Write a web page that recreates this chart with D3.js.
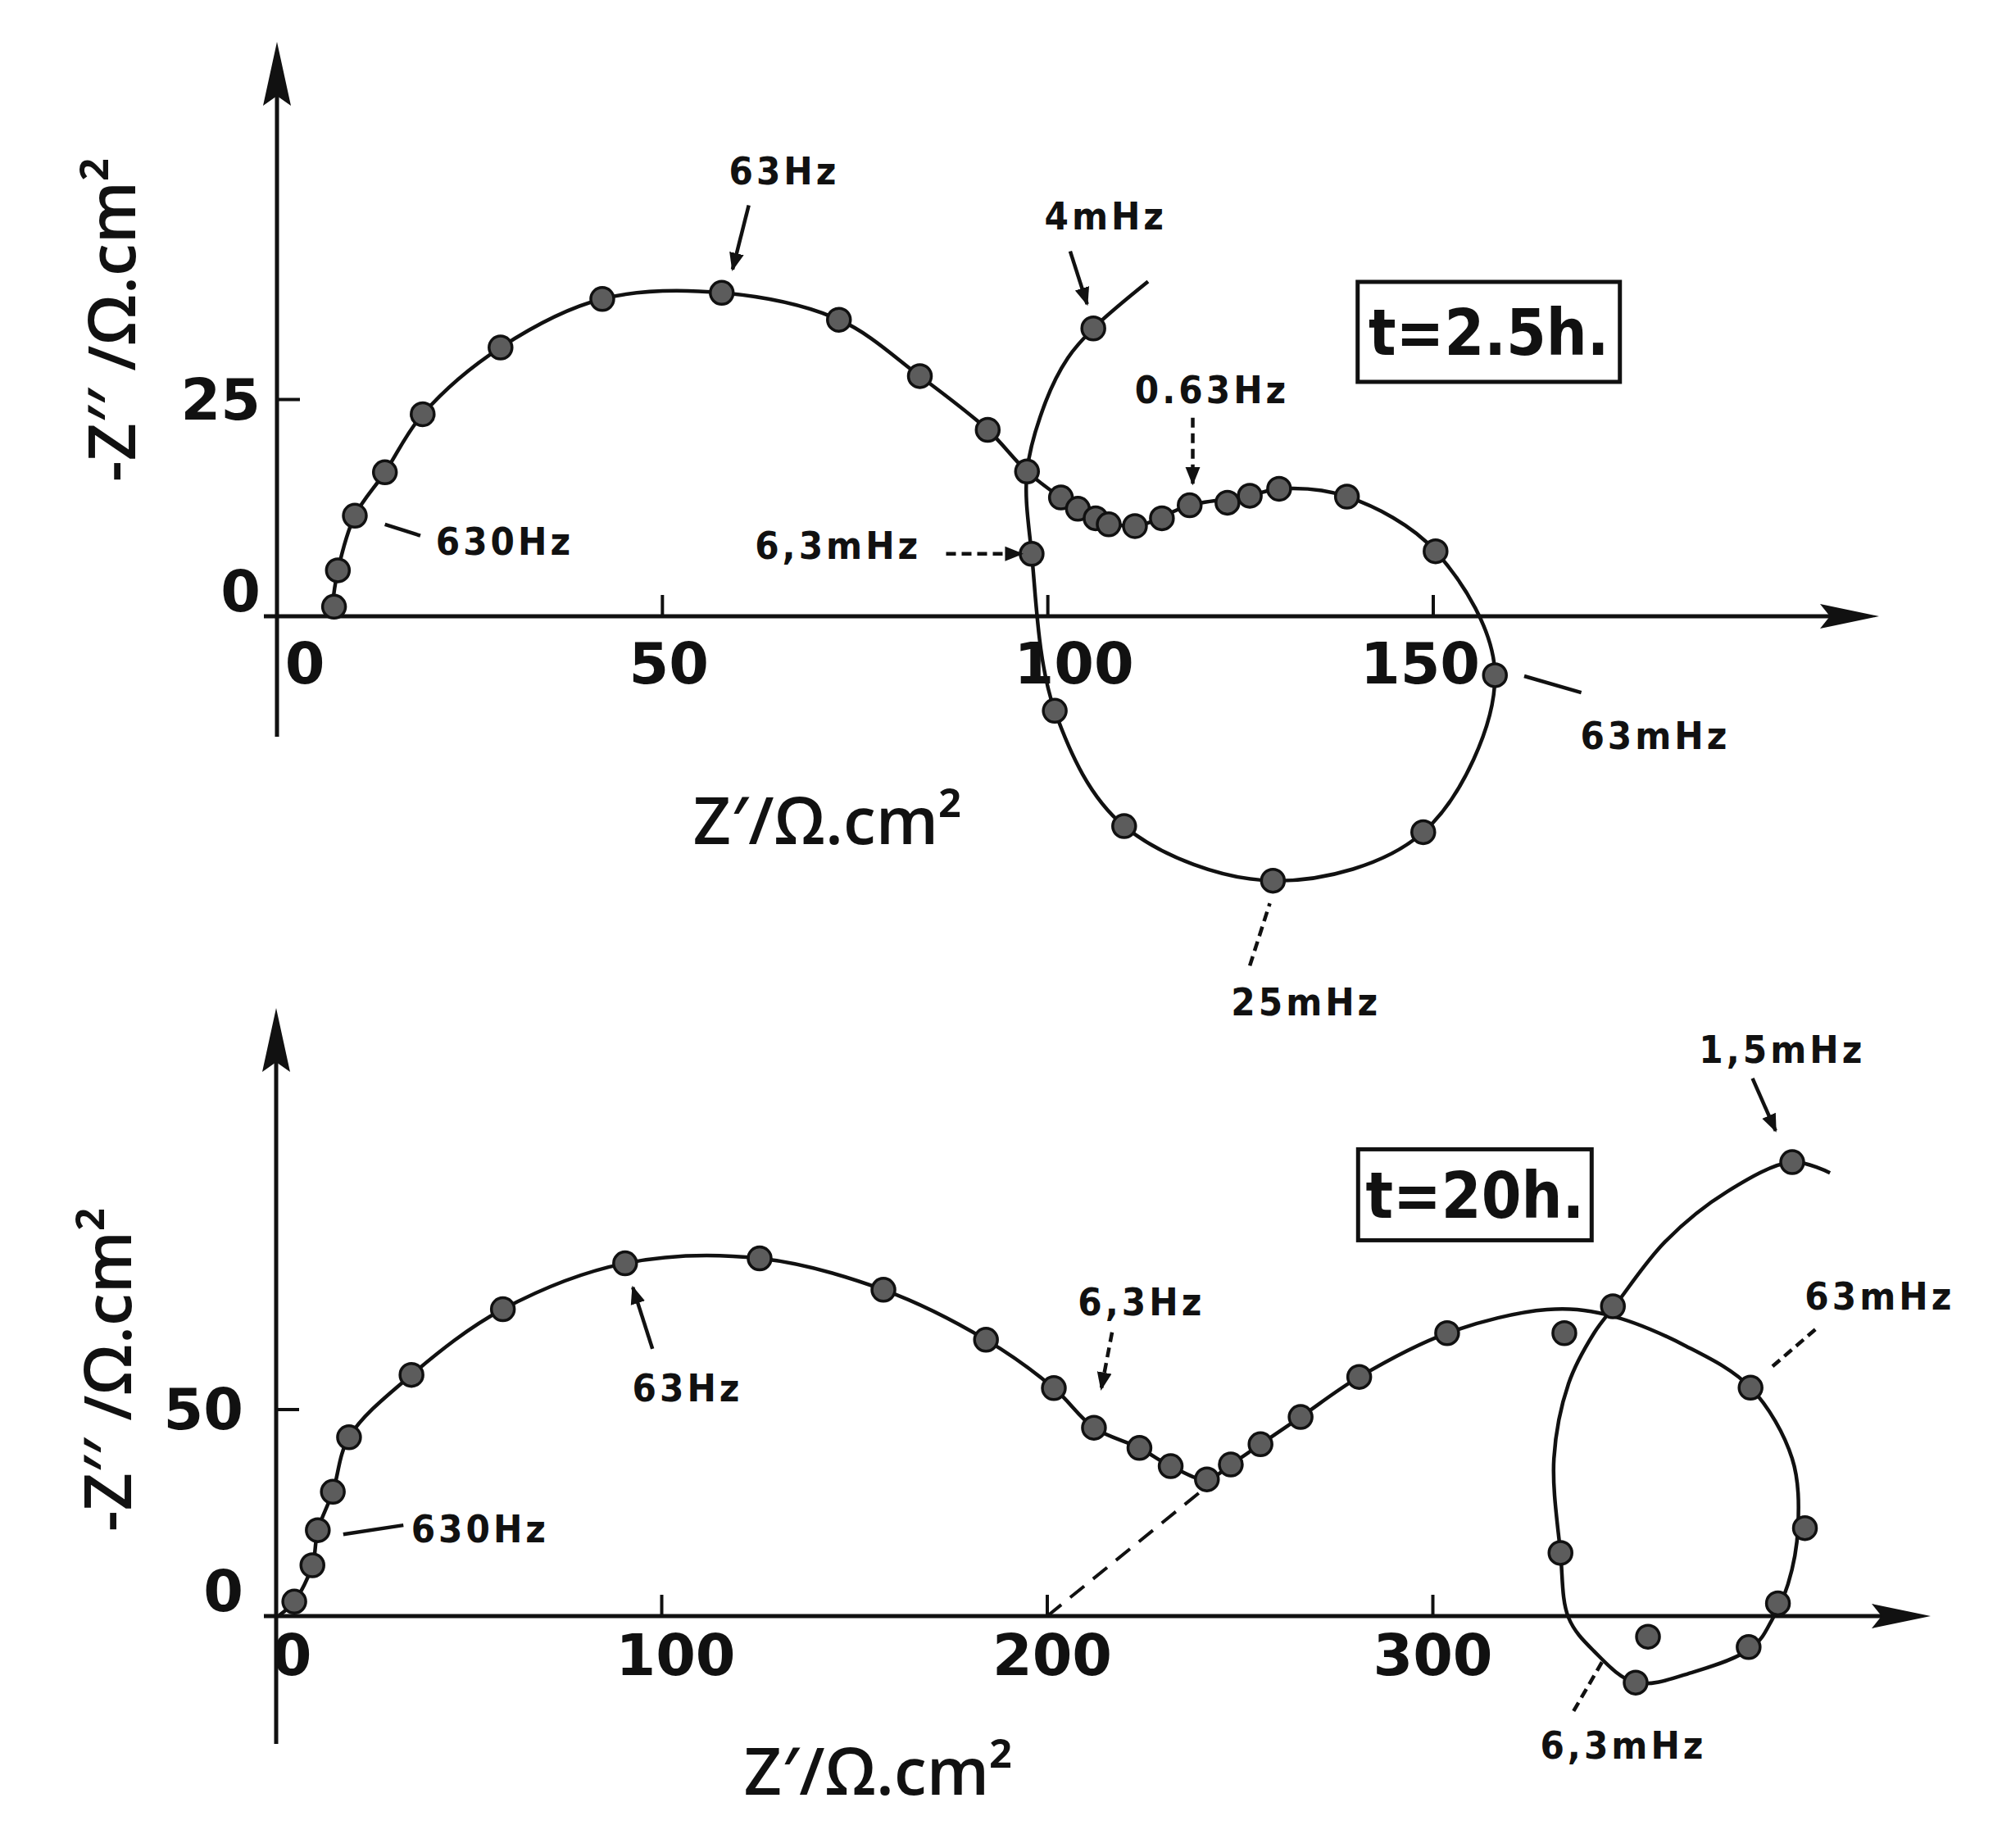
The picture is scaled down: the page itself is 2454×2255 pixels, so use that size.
<!DOCTYPE html>
<html>
<head>
<meta charset="utf-8">
<script src="https://cdn.jsdelivr.net/npm/d3@7"></script>
<style>
  body { margin: 0; background: #fff; }
  svg { display: block; }
</style>
</head>
<body>
<svg id="chart" width="2454" height="2255"></svg>
<script>
// ---- data (Z' , -Z'') in ohm.cm2 ----

// t = 2.5 h
const topXTicks = [0, 50, 100, 150];
const topYTicks = [0, 25];
const topPoints = [
  [7.4, 1.1], [7.9, 5.3], [10.1, 11.6], [14.0, 16.6], [18.9, 23.3], [29.0, 31.0],
  [42.2, 36.6], [57.7, 37.3], [72.9, 34.2], [83.4, 27.7], [92.2, 21.5], [97.3, 16.7],
  [101.7, 13.7], [103.9, 12.4], [106.2, 11.3], [107.9, 10.6], [111.3, 10.4], [114.8, 11.3],
  [118.4, 12.8], [123.3, 13.1], [126.2, 13.9], [130.0, 14.7], [138.8, 13.8], [150.3, 7.5],
  [158.0, -6.8], [148.7, -24.9], [129.2, -30.5], [109.9, -24.2], [100.9, -10.9], [97.9, 7.2],
  [105.9, 33.2]
];
const topFit = [
  [7.1, 0.6], [7.9, 5.3], [10.1, 11.6], [14.0, 16.6], [18.9, 23.3], [29.0, 31.0],
  [42.2, 36.6], [57.7, 37.3], [72.9, 34.2], [83.4, 27.7], [92.2, 21.5], [97.3, 16.7],
  [101.7, 13.7], [106.2, 11.3], [111.3, 10.4], [118.4, 12.8], [126.2, 13.9], [130.0, 14.7],
  [138.8, 13.8], [150.3, 7.5], [158.0, -6.8], [148.7, -24.9], [129.2, -30.5], [109.9, -24.2],
  [100.9, -10.9], [97.9, 7.2], [97.3, 16.7], [99.7, 24.7], [102.6, 29.8], [105.9, 33.2],
  [113.0, 38.6]
];
const topNotes = [
  { text: "63Hz",   lx: 65.8,  ly: 51.4,  x1: 61.2,  y1: 47.4, x2: 59.1,  y2: 40.0, anchor: "middle", dash: false, head: true },
  { text: "630Hz",  lx: 20.6,  ly: 8.7,   x1: 18.6,  y1: 9.3,  x2: 14.0,  y2: 10.6, anchor: "start",  dash: false, head: false },
  { text: "6,3mHz", lx: 62.0,  ly: 8.2,   x1: 86.8,  y1: 7.2,  x2: 96.6,  y2: 7.2,  anchor: "start",  dash: true,  head: true },
  { text: "4mHz",   lx: 107.5, ly: 46.2,  x1: 102.9, y1: 42.1, x2: 105.1, y2: 36.0, anchor: "middle", dash: false, head: true },
  { text: "0.63Hz", lx: 121.3, ly: 26.2,  x1: 118.8, y1: 22.9, x2: 118.8, y2: 15.3, anchor: "middle", dash: true,  head: true },
  { text: "63mHz",  lx: 178.8, ly: -13.7, x1: 169.2, y1: -8.8, x2: 161.8, y2: -6.9, anchor: "middle", dash: false, head: false },
  { text: "25mHz",  lx: 133.5, ly: -44.4, x1: 126.2, y1: -40.3, x2: 128.8, y2: -33.1, anchor: "middle", dash: true,  head: false }
];

// t = 20 h
const bottomXTicks = [0, 100, 200, 300];
const bottomYTicks = [0, 50];
const bottomPoints = [
  [4.7, 3.5], [9.4, 12.3], [10.8, 20.8], [14.7, 30.1], [18.9, 43.3], [35.1, 58.4],
  [58.8, 74.3], [90.5, 85.4], [125.4, 86.6], [157.5, 79.0], [184.1, 66.9], [201.7, 55.2],
  [212.1, 45.6], [223.9, 40.7], [232.0, 36.3], [241.4, 33.1], [247.6, 36.7], [255.3, 41.6],
  [265.7, 48.2], [280.9, 57.9], [303.7, 68.5], [334.1, 68.5], [346.7, 75.0], [382.4, 55.3],
  [396.5, 21.3], [389.5, 3.1], [381.9, -7.5], [352.6, -16.1], [355.8, -5.0], [333.1, 15.3],
  [393.2, 109.9]
];
const bottomFit = [
  [0.8, 0.2], [4.7, 3.5], [9.4, 12.3], [10.8, 20.8], [14.7, 30.1], [18.9, 43.3], [35.1, 58.4],
  [58.8, 74.3], [90.5, 85.4], [125.4, 86.6], [157.5, 79.0], [184.1, 66.9], [201.7, 55.2],
  [212.1, 45.6], [223.9, 40.7], [232.0, 36.3], [241.4, 33.1], [247.6, 36.7], [255.3, 41.6],
  [265.7, 48.2], [280.9, 57.9], [303.7, 68.5], [329.6, 74.2], [345.0, 73.0], [365.6, 65.4],
  [382.4, 55.3], [393.2, 38.1], [394.7, 21.4], [392.1, 7.7], [387.9, -1.0], [383.0, -7.5],
  [367.7, -13.5], [352.6, -16.1], [341.8, -8.5], [335.2, -0.4], [333.1, 15.3], [331.4, 38.1],
  [335.2, 56.3], [341.8, 68.5], [347.5, 75.5], [360.3, 90.7], [376.4, 102.8], [393.2, 109.9],
  [403.0, 107.3]
];
const bottomDash = [[200, 0], [240.9, 31.0]];
const bottomNotes = [
  { text: "63Hz",   lx: 106.7, ly: 55.4,  x1: 97.6,  y1: 64.7, x2: 92.5,  y2: 79.6, anchor: "middle", dash: false, head: true },
  { text: "630Hz",  lx: 35.0,  ly: 21.2,  x1: 33.0,  y1: 22.0, x2: 17.4,  y2: 19.8, anchor: "start",  dash: false, head: false },
  { text: "6,3Hz",  lx: 224.4, ly: 76.2,  x1: 216.8, y1: 68.7, x2: 214.0, y2: 55.0, anchor: "middle", dash: true,  head: true },
  { text: "1,5mHz", lx: 390.6, ly: 137.3, x1: 382.9, y1: 130.2, x2: 388.9, y2: 117.5, anchor: "middle", dash: false, head: true },
  { text: "63mHz",  lx: 415.9, ly: 77.6,  x1: 399.2, y1: 69.4, x2: 387.9, y2: 60.3, anchor: "middle", dash: true,  head: false },
  { text: "6,3mHz", lx: 349.4, ly: -31.2, x1: 336.5, y1: -23.0, x2: 343.9, y2: -11.1, anchor: "middle", dash: true,  head: false }
];

const xTitle = "Z\u2032/\u03A9.cm\u00B2";
const yTitle = "-Z\u2032\u2032 /\u03A9.cm\u00B2";

// ---- drawing ----
const svg = d3.select("#chart");
svg.append("rect").attr("width", 2454).attr("height", 2255).attr("fill", "#fff");

const defs = svg.append("defs");
defs.append("marker")
  .attr("id", "tip")
  .attr("viewBox", "0 0 10 10")
  .attr("refX", 9).attr("refY", 5)
  .attr("markerWidth", 5).attr("markerHeight", 5)
  .attr("markerUnits", "strokeWidth")
  .attr("orient", "auto")
  .append("path").attr("d", "M0,1 L10,5 L0,9 Z").attr("fill", "#111");

const labelFont = "'DejaVu Sans Condensed', 'DejaVu Sans', sans-serif";

function drawPanel(p) {
  const x = d3.scaleLinear().domain(p.xDomain).range(p.xRange);
  const y = d3.scaleLinear().domain(p.yDomain).range(p.yRange);
  const g = svg.append("g");
  const x0 = x(0), y0 = y(0);

  // axes with arrow heads
  g.append("line").attr("x1", p.axisLeft).attr("x2", p.axisRight - 40)
    .attr("y1", y0).attr("y2", y0).attr("stroke", "#111").attr("stroke-width", 5);
  g.append("path")
    .attr("d", `M${p.axisRight},${y0} L${p.axisRight - 72},${y0 - 15} L${p.axisRight - 60},${y0} L${p.axisRight - 72},${y0 + 15} Z`)
    .attr("fill", "#111");
  g.append("line").attr("x1", x0).attr("x2", x0)
    .attr("y1", p.axisBottom).attr("y2", p.axisTop + 40).attr("stroke", "#111").attr("stroke-width", 5);
  g.append("path")
    .attr("d", `M${x0},${p.axisTop} L${x0 - 17},${p.axisTop + 78} L${x0},${p.axisTop + 66} L${x0 + 17},${p.axisTop + 78} Z`)
    .attr("fill", "#111");

  // ticks
  g.selectAll(".xt").data(p.xTicks.filter(d => d !== 0)).join("line")
    .attr("x1", d => x(d)).attr("x2", d => x(d))
    .attr("y1", y0).attr("y2", y0 - 26).attr("stroke", "#111").attr("stroke-width", 4);
  g.selectAll(".yt").data(p.yTicks.filter(d => d !== 0)).join("line")
    .attr("x1", x0).attr("x2", x0 + 28)
    .attr("y1", d => y(d)).attr("y2", d => y(d)).attr("stroke", "#111").attr("stroke-width", 4);

  g.selectAll(".xl").data(p.xTicks).join("text")
    .attr("x", (d, i) => x(d) + p.xLabelNudge[i])
    .attr("y", y0 + p.xLabelDrop)
    .attr("text-anchor", "middle")
    .attr("font-family", "'DejaVu Sans', sans-serif").attr("font-weight", "bold")
    .attr("font-size", 70).attr("fill", "#111")
    .text(d => d);
  g.selectAll(".yl").data(p.yTicks).join("text")
    .attr("x", x0 - p.yLabelGap)
    .attr("y", d => y(d) + 24 - (d === 0 ? 30 : 0))
    .attr("text-anchor", "end")
    .attr("font-family", "'DejaVu Sans', sans-serif").attr("font-weight", "bold")
    .attr("font-size", 70).attr("fill", "#111")
    .text(d => d);

  // axis titles
  g.append("text").attr("x", p.xTitlePos[0]).attr("y", p.xTitlePos[1])
    .attr("text-anchor", "middle").attr("font-family", "'Open Sans', sans-serif")
    .attr("font-weight", 600).attr("font-size", 80).attr("fill", "#111").text(xTitle);
  g.append("text")
    .attr("transform", `translate(${p.yTitlePos[0]},${p.yTitlePos[1]}) rotate(-90)`)
    .attr("text-anchor", "middle").attr("font-family", "'Open Sans', sans-serif")
    .attr("font-weight", 600).attr("font-size", 80).attr("fill", "#111").text(yTitle);

  // fitted curve
  const line = d3.line().x(d => x(d[0])).y(d => y(d[1])).curve(d3.curveCatmullRom.alpha(0.5));
  g.append("path").datum(p.fit).attr("d", line)
    .attr("fill", "none").attr("stroke", "#111").attr("stroke-width", 4.5);

  if (p.dash) {
    g.append("path").datum(p.dash).attr("d", d3.line().x(d => x(d[0])).y(d => y(d[1])))
      .attr("fill", "none").attr("stroke", "#111").attr("stroke-width", 4)
      .attr("stroke-dasharray", "22,14");
  }

  // measured points
  g.selectAll(".pt").data(p.points).join("circle")
    .attr("cx", d => x(d[0])).attr("cy", d => y(d[1])).attr("r", 14)
    .attr("fill", "#5c5c5c").attr("stroke", "#111").attr("stroke-width", 3.5);

  // frequency annotations
  const notes = g.selectAll(".note").data(p.notes).join("g");
  notes.append("line")
    .attr("x1", d => x(d.x1)).attr("y1", d => y(d.y1))
    .attr("x2", d => x(d.x2)).attr("y2", d => y(d.y2))
    .attr("stroke", "#111").attr("stroke-width", 4.5)
    .attr("stroke-dasharray", d => d.dash ? "12,7" : null)
    .attr("marker-end", d => d.head ? "url(#tip)" : null);
  notes.append("text")
    .attr("x", d => x(d.lx)).attr("y", d => y(d.ly) + 17)
    .attr("text-anchor", d => d.anchor)
    .attr("font-family", labelFont).attr("font-weight", "bold")
    .attr("font-size", 47).attr("letter-spacing", 4).attr("fill", "#111")
    .text(d => d.text);

  // time box
  const bx = x(p.box.x), by = y(p.box.y);
  g.append("rect").attr("x", bx - p.box.w / 2).attr("y", by - p.box.h / 2)
    .attr("width", p.box.w).attr("height", p.box.h)
    .attr("fill", "none").attr("stroke", "#111").attr("stroke-width", 5);
  g.append("text").attr("x", bx).attr("y", by + 28)
    .attr("text-anchor", "middle").attr("font-family", labelFont)
    .attr("font-weight", "bold").attr("font-size", 78).attr("fill", "#111")
    .text(p.box.text);
}

drawPanel({
  xDomain: [0, 150], xRange: [338, 1749],
  yDomain: [0, 25], yRange: [752, 487.5],
  axisLeft: 322, axisRight: 2293, axisTop: 51, axisBottom: 899,
  xTicks: topXTicks, yTicks: topYTicks,
  xLabelNudge: [34, 8, 32, -16], xLabelDrop: 82, yLabelGap: 20,
  xTitlePos: [1010, 1030], yTitlePos: [165, 390],
  fit: topFit, points: topPoints, notes: topNotes, dash: null,
  box: { text: "t=2.5h.", x: 157.2, y: 32.8, w: 320, h: 122 }
});

drawPanel({
  xDomain: [0, 300], xRange: [337, 1748.5],
  yDomain: [0, 50], yRange: [1972, 1720],
  axisLeft: 322, axisRight: 2356, axisTop: 1230, axisBottom: 2128,
  xTicks: bottomXTicks, yTicks: bottomYTicks,
  xLabelNudge: [19, 17, 6, 0], xLabelDrop: 72, yLabelGap: 40,
  xTitlePos: [1072, 2190], yTitlePos: [160, 1671],
  fit: bottomFit, points: bottomPoints, notes: bottomNotes, dash: bottomDash,
  box: { text: "t=20h.", x: 310.9, y: 102.0, w: 285, h: 111 }
});
</script>
</body>
</html>
